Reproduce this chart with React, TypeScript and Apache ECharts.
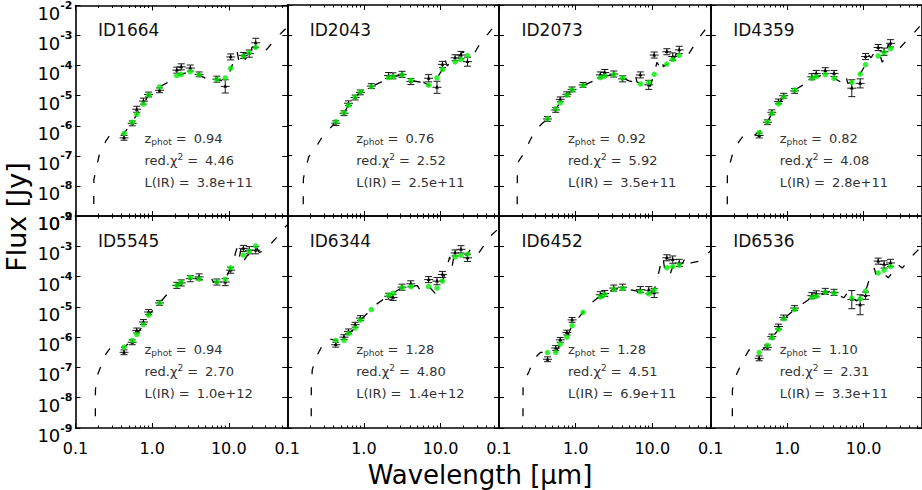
import React, { useEffect, useRef } from "react";
import * as echarts from "echarts";

// ---------------- data ----------------
const FILTER_WAVELENGTH_UM = [0.43, 0.55, 0.63, 0.77, 0.9, 1.25, 2.1, 2.4, 3.15, 4.1, 7.0, 9.0, 10.6, 15.5, 18.5, 22.5];

const PANEL_IDS = ["ID1664", "ID2043", "ID2073", "ID4359", "ID5545", "ID6344", "ID6452", "ID6536"];
const Z_PHOT = ["0.94", "0.76", "0.92", "0.82", "0.94", "1.28", "1.28", "1.10"];
const RED_CHI2 = ["4.46", "2.52", "5.92", "4.08", "2.70", "4.80", "4.51", "2.31"];
const L_IR = ["3.8e+11", "2.5e+11", "3.5e+11", "2.8e+11", "1.0e+12", "1.4e+12", "6.9e+11", "3.3e+11"];

const X_MIN_UM = 0.1;
const X_MAX_UM = 58;
const Y_MIN_LOG = -9;
const Y_MAX_LOG = -2;
const MAJOR_TICKS_UM = [0.1, 1, 10];
const X_TICK_LABELS = ["0.1", "1.0", "10.0"];
const MINOR_TICKS_UM = [0.2, 0.3, 0.4, 0.5, 0.6, 0.7, 0.8, 0.9, 2, 3, 4, 5, 6, 7, 8, 9, 20, 30, 40, 50];

// model SED (dashed): wavelength in micron, log10 flux in Jy
const MODEL_1664_WL = [0.1725, 0.1735, 0.205, 0.25, 0.28, 0.36, 0.43, 0.55, 0.63, 0.77, 0.9, 1.25, 1.7, 2.1, 2.4, 3.15, 4.1, 5.3, 6.0, 6.5, 7.0, 8.0, 9.0, 10.0, 11.1, 12.0, 12.9, 13.5, 14.3, 15.5, 16.5, 18.3, 20.2, 22.4, 25, 27.4, 31.8, 40.8, 47.4, 58];
const MODEL_1664_LOGF = [-10, -7.8, -6.95, -6.5, -6.32, -6.33, -6.25, -5.88, -5.62, -5.28, -4.98, -4.71, -4.52, -4.33, -4.29, -4.2, -4.31, -4.45, -4.52, -4.38, -4.47, -4.5, -4.48, -4.3, -3.99, -3.66, -3.55, -3.82, -3.66, -3.49, -3.82, -3.77, -3.38, -3.41, -3.55, -3.6, -3.44, -3.1, -2.94, -2.72];
const MODEL_2043_WL = [0.16, 0.1625, 0.19, 0.25, 0.29, 0.36, 0.43, 0.55, 0.63, 0.77, 0.9, 1.25, 1.7, 2.1, 2.4, 3.15, 4.1, 5.4, 5.8, 6.1, 7.0, 8.0, 9.0, 10.6, 11.2, 12.3, 13.5, 15, 17, 19.5, 21, 23, 27, 35, 42, 54, 58];
const MODEL_2043_LOGF = [-10, -7.75, -7.05, -6.62, -6.35, -6.1, -5.87, -5.57, -5.33, -5.05, -4.88, -4.71, -4.55, -4.41, -4.38, -4.32, -4.5, -4.56, -4.33, -4.58, -4.66, -4.62, -4.42, -4.14, -3.77, -4.02, -3.88, -3.75, -3.72, -3.55, -3.62, -3.62, -3.65, -3.15, -2.95, -2.6, -2.52];
const MODEL_2073_WL = [0.172, 0.1735, 0.18, 0.205, 0.25, 0.29, 0.36, 0.43, 0.55, 0.63, 0.77, 0.9, 1.25, 1.7, 2.1, 2.4, 3.15, 4.1, 5.0, 5.7, 6.0, 6.3, 7.0, 8.0, 9.2, 10.6, 11.5, 12.3, 13.2, 14, 15.5, 17.5, 20.5, 23, 26, 30, 39, 45, 58];
const MODEL_2073_LOGF = [-10, -7.6, -7.19, -6.97, -6.53, -6.2, -5.95, -5.77, -5.44, -5.25, -4.99, -4.82, -4.67, -4.52, -4.41, -4.36, -4.31, -4.42, -4.52, -4.55, -4.28, -4.55, -4.62, -4.65, -4.76, -4.3, -3.9, -4.02, -3.8, -4.05, -3.96, -4.1, -3.62, -3.65, -3.7, -3.62, -3.16, -2.94, -2.6];
const MODEL_4359_WL = [0.164, 0.165, 0.19, 0.234, 0.273, 0.36, 0.43, 0.55, 0.63, 0.77, 0.9, 1.25, 1.7, 2.1, 2.4, 3.15, 4.1, 5.0, 5.6, 5.9, 6.2, 7.0, 8.0, 9.0, 10.6, 11.6, 12.5, 13.5, 14.5, 16, 17.5, 19, 21, 22.5, 25, 28.5, 39, 45, 58];
const MODEL_4359_LOGF = [-10, -7.6, -7.0, -6.53, -6.3, -6.33, -6.23, -5.88, -5.6, -5.28, -5.05, -4.82, -4.62, -4.43, -4.38, -4.31, -4.43, -4.55, -4.6, -4.38, -4.6, -4.57, -4.45, -4.29, -3.98, -3.66, -3.75, -3.62, -3.7, -3.58, -3.9, -3.75, -3.3, -3.45, -3.55, -3.48, -3.1, -2.94, -2.62];
const MODEL_5545_WL = [0.181, 0.182, 0.19, 0.22, 0.25, 0.3, 0.36, 0.43, 0.55, 0.63, 0.77, 0.9, 1.25, 1.6, 1.83, 2.1, 2.4, 3.15, 4.1, 5.2, 5.8, 6.3, 7.0, 8.0, 9.0, 10.6, 11.7, 12.3, 13.0, 13.8, 14.5, 16, 17.5, 19.5, 22.5, 25, 29, 33, 45, 52, 58];
const MODEL_5545_LOGF = [-10, -7.75, -7.3, -6.9, -6.55, -6.28, -6.35, -6.33, -6.11, -5.91, -5.59, -5.27, -4.87, -4.56, -4.4, -4.29, -4.19, -4.03, -4.08, -4.15, -4.0, -4.18, -4.17, -4.2, -4.09, -3.71, -3.45, -3.2, -3.0, -3.35, -3.05, -3.45, -3.3, -3.25, -2.99, -3.2, -3.15, -3.0, -2.63, -2.41, -2.3];
const MODEL_6344_WL = [0.205, 0.206, 0.212, 0.234, 0.29, 0.35, 0.43, 0.55, 0.63, 0.77, 0.9, 1.25, 1.45, 2.1, 2.4, 3.15, 4.1, 5.0, 5.5, 7.0, 7.5, 8.5, 9.0, 10.6, 11.5, 12.5, 13.2, 14, 14.8, 16, 18, 20, 22.5, 26, 29, 32, 39, 45, 58];
const MODEL_6344_LOGF = [-10, -7.7, -7.08, -6.7, -6.25, -6.05, -6.11, -6.11, -5.88, -5.7, -5.44, -5.09, -4.92, -4.62, -4.55, -4.36, -4.33, -4.3, -4.48, -4.33, -4.4, -4.55, -4.38, -4.15, -3.9, -3.55, -3.35, -3.75, -3.4, -3.3, -3.33, -3.35, -3.26, -3.0, -3.15, -3.2, -2.88, -2.66, -2.4];
const MODEL_6452_WL = [0.205, 0.206, 0.212, 0.246, 0.29, 0.35, 0.43, 0.55, 0.63, 0.77, 0.9, 1.25, 1.4, 1.9, 2.1, 2.4, 3.15, 4.1, 5.5, 7.0, 8.0, 9.0, 10.6, 11.7, 13.0, 13.8, 14.5, 15.5, 17, 18.5, 20, 22.5, 25, 28, 32, 40, 47, 58];
const MODEL_6452_LOGF = [-10, -7.6, -7.47, -7.14, -6.7, -6.5, -6.51, -6.5, -6.23, -6.0, -5.62, -5.18, -5.0, -4.72, -4.67, -4.6, -4.42, -4.39, -4.45, -4.5, -4.55, -4.57, -4.45, -4.05, -3.55, -3.35, -3.75, -3.71, -3.95, -3.67, -3.85, -3.62, -3.55, -3.3, -3.55, -3.5, -3.35, -3.15];
const MODEL_6536_WL = [0.191, 0.192, 0.2, 0.22, 0.273, 0.317, 0.36, 0.43, 0.55, 0.63, 0.77, 0.9, 1.25, 1.7, 2.1, 2.4, 3.15, 4.1, 5.5, 6.1, 6.4, 7.0, 8.0, 9.0, 10.6, 11.7, 12.9, 13.8, 14.5, 15.5, 17, 19, 21, 23.6, 26, 28.5, 32, 35, 45, 55, 58];
const MODEL_6536_LOGF = [-10, -7.75, -7.47, -7.2, -6.7, -6.42, -6.45, -6.51, -6.27, -6.02, -5.75, -5.4, -5.09, -4.85, -4.69, -4.65, -4.52, -4.55, -4.7, -4.55, -4.8, -4.71, -4.8, -4.74, -4.48, -4.15, -3.95, -3.72, -3.95, -3.85, -3.85, -3.95, -4.04, -3.88, -3.85, -3.62, -3.72, -3.6, -3.27, -3.05, -3.0];

// model photometry (green dots), log10 flux in Jy, one per filter
const MODELPHOT_1664 = [-6.25, -5.88, -5.62, -5.28, -4.98, -4.71, -4.33, -4.29, -4.2, -4.31, -4.46, -4.41, -4.09, -3.68, -3.56, -3.39];
const MODELPHOT_2043 = [-5.87, -5.57, -5.33, -5.05, -4.88, -4.71, -4.41, -4.38, -4.32, -4.5, -4.66, -4.42, -4.14, -3.89, -3.81, -3.68];
const MODELPHOT_2073 = [-5.77, -5.44, -5.25, -4.99, -4.82, -4.67, -4.41, -4.36, -4.31, -4.42, -4.62, -4.57, -4.3, -3.96, -3.81, -3.67];
const MODELPHOT_4359 = [-6.23, -5.88, -5.6, -5.28, -5.05, -4.82, -4.43, -4.38, -4.31, -4.43, -4.57, -4.29, -3.98, -3.69, -3.58, -3.45];
const MODELPHOT_5545 = [-6.33, -6.11, -5.91, -5.59, -5.27, -4.87, -4.29, -4.19, -4.03, -4.08, -4.17, -4.09, -3.71, -3.29, -3.17, -2.99];
const MODELPHOT_6344 = [-6.11, -6.11, -5.88, -5.7, -5.44, -5.09, -4.62, -4.55, -4.36, -4.33, -4.33, -4.38, -4.15, -3.35, -3.3, -3.26];
const MODELPHOT_6452 = [-6.51, -6.5, -6.23, -6.0, -5.62, -5.18, -4.67, -4.6, -4.42, -4.39, -4.5, -4.57, -4.45, -3.71, -3.67, -3.62];
const MODELPHOT_6536 = [-6.51, -6.27, -6.02, -5.75, -5.4, -5.09, -4.69, -4.65, -4.52, -4.55, -4.71, -4.74, -4.48, -3.88, -3.79, -3.67];

// observed photometry (black crosses), log10 flux in Jy and error in dex
const OBS_1664 = [-6.4, -5.92, -5.45, -5.18, -4.96, -4.82, -4.15, -4.04, -4.08, -4.29, -4.45, -4.69, -3.71, -3.66, -3.6, -3.24];
const OBS_1664_ERR = [0.08, 0.08, 0.1, 0.1, 0.08, 0.08, 0.1, 0.1, 0.1, 0.08, 0.1, 0.22, 0.1, 0.1, 0.12, 0.15];
const OBS_2043 = [-5.92, -5.59, -5.26, -5.07, -4.9, -4.69, -4.34, -4.35, -4.3, -4.54, -4.43, -4.73, -3.97, -3.75, -3.66, -3.88];
const OBS_2043_ERR = [0.08, 0.08, 0.08, 0.08, 0.08, 0.08, 0.1, 0.1, 0.1, 0.1, 0.12, 0.2, 0.1, 0.1, 0.12, 0.15];
const OBS_2073 = [-5.78, -5.48, -5.13, -4.96, -4.8, -4.65, -4.32, -4.24, -4.29, -4.45, -4.32, -4.65, -3.66, -3.55, -3.71, -3.49];
const OBS_2073_ERR = [0.08, 0.08, 0.08, 0.08, 0.08, 0.08, 0.1, 0.1, 0.1, 0.1, 0.1, 0.15, 0.1, 0.1, 0.12, 0.12];
const OBS_4359 = [-6.33, -5.89, -5.56, -5.2, -5.01, -4.85, -4.38, -4.27, -4.18, -4.27, -4.76, -4.6, -3.71, -3.41, -3.55, -3.27];
const OBS_4359_ERR = [0.08, 0.08, 0.08, 0.08, 0.08, 0.08, 0.1, 0.1, 0.1, 0.1, 0.28, 0.15, 0.1, 0.1, 0.12, 0.12];
const OBS_5545 = [-6.5, -6.17, -5.78, -5.5, -5.17, -4.87, -4.29, -4.21, -4.07, -4.01, -4.18, -4.18, -3.79, -3.07, -3.13, -3.13];
const OBS_5545_ERR = [0.08, 0.08, 0.08, 0.08, 0.08, 0.08, 0.1, 0.1, 0.1, 0.1, 0.1, 0.12, 0.1, 0.1, 0.12, 0.12];
const OBS_6344 = [-6.25, -6.0, -5.81, -5.59, -5.37, null, -4.65, -4.69, -4.35, -4.24, -4.1, -4.15, -3.93, -3.22, -3.1, -3.38];
const OBS_6344_ERR = [0.08, 0.08, 0.08, 0.08, 0.08, 0.08, 0.1, 0.1, 0.1, 0.1, 0.1, 0.12, 0.1, 0.1, 0.12, 0.12];
const OBS_6452 = [-6.73, -6.36, -6.09, -5.85, -5.43, null, -4.6, -4.56, -4.38, -4.35, -4.43, -4.45, -4.54, -3.38, -3.44, -3.55];
const OBS_6452_ERR = [0.08, 0.08, 0.08, 0.08, 0.08, 0.08, 0.1, 0.1, 0.1, 0.1, 0.1, 0.12, 0.15, 0.1, 0.12, 0.12];
const OBS_6536 = [-6.7, -6.34, -5.98, -5.65, -5.35, -5.04, -4.63, -4.57, -4.49, -4.52, -4.76, -4.93, -4.63, -3.49, -3.6, -3.55];
const OBS_6536_ERR = [0.08, 0.08, 0.08, 0.08, 0.08, 0.08, 0.1, 0.1, 0.1, 0.1, 0.3, 0.33, 0.12, 0.1, 0.12, 0.12];

const MODEL_WL = [MODEL_1664_WL, MODEL_2043_WL, MODEL_2073_WL, MODEL_4359_WL, MODEL_5545_WL, MODEL_6344_WL, MODEL_6452_WL, MODEL_6536_WL];
const MODEL_LOGF = [MODEL_1664_LOGF, MODEL_2043_LOGF, MODEL_2073_LOGF, MODEL_4359_LOGF, MODEL_5545_LOGF, MODEL_6344_LOGF, MODEL_6452_LOGF, MODEL_6536_LOGF];
const MODELPHOT = [MODELPHOT_1664, MODELPHOT_2043, MODELPHOT_2073, MODELPHOT_4359, MODELPHOT_5545, MODELPHOT_6344, MODELPHOT_6452, MODELPHOT_6536];
const OBS = [OBS_1664, OBS_2043, OBS_2073, OBS_4359, OBS_5545, OBS_6344, OBS_6452, OBS_6536];
const OBS_ERR = [OBS_1664_ERR, OBS_2043_ERR, OBS_2073_ERR, OBS_4359_ERR, OBS_5545_ERR, OBS_6344_ERR, OBS_6452_ERR, OBS_6536_ERR];

// ---------------- layout ----------------
const FONT = "'DejaVu Sans', 'Liberation Sans', sans-serif";
const COL_LEFT0 = 75.5;
const COL_W = 211.75;
const ROW_TOP = [5, 216];
const ROW_H = [211, 212];
const GREEN = "#00ee00";

function buildOption() {
  const xMin = Math.log10(X_MIN_UM);
  const xMax = Math.log10(X_MAX_UM);
  const logMajor = MAJOR_TICKS_UM.map((v) => Math.log10(v));
  const logMinor = MINOR_TICKS_UM.map((v) => Math.log10(v));
  const axisLineStyle = { color: "#000", width: 1.6 };
  const tickLineStyle = { color: "#000", width: 1 };

  const xFormatter = (v: number) => {
    const i = logMajor.findIndex((m) => Math.abs(m - v) < 1e-6);
    return i >= 0 ? X_TICK_LABELS[i] : "";
  };

  const grids: any[] = [];
  const xAxes: any[] = [];
  const yAxes: any[] = [];
  const series: any[] = [];
  const graphics: any[] = [];

  const xAx = (gi: number, pos: string, ticks: number[], len: number, showLine: boolean, showLabel: boolean) => ({
    type: "value",
    gridIndex: gi,
    position: pos,
    min: xMin,
    max: xMax,
    axisLine: { show: showLine, onZero: false, lineStyle: axisLineStyle },
    axisTick: { show: true, inside: true, length: len, customValues: ticks, lineStyle: tickLineStyle },
    axisLabel: {
      show: showLabel,
      customValues: logMajor,
      formatter: xFormatter,
      margin: 12,
      fontSize: 16,
      lineHeight: 16,
      color: "#000",
      fontFamily: FONT,
    },
    splitLine: { show: false },
  });

  const yAx = (gi: number, pos: string, showLabel: boolean) => ({
    type: "value",
    gridIndex: gi,
    position: pos,
    min: Y_MIN_LOG,
    max: Y_MAX_LOG,
    interval: 1,
    axisLine: { show: true, onZero: false, lineStyle: axisLineStyle },
    axisTick: { show: true, inside: true, length: 5, lineStyle: tickLineStyle },
    axisLabel: {
      show: showLabel,
      margin: 3,
      padding: [11, 0, 0, 0],
      formatter: (v: number) => "{b|10}{e|" + Math.round(v) + "}",
      rich: {
        b: { fontSize: 18, lineHeight: 22, verticalAlign: "bottom", fontFamily: FONT, color: "#000" },
        e: { fontSize: 11, lineHeight: 11, verticalAlign: "top", fontFamily: FONT, color: "#000", fontWeight: "bold" },
      },
    },
    splitLine: { show: false },
  });

  const statRich = {
    n: { fontSize: 13, lineHeight: 16, fontFamily: FONT, fill: "#333", color: "#333" },
    s: { fontSize: 9, lineHeight: 9, verticalAlign: "bottom", fontFamily: FONT, fill: "#333", color: "#333" },
    p: { fontSize: 9, lineHeight: 9, verticalAlign: "top", fontFamily: FONT, fill: "#333", color: "#333" },
    q: { fontSize: 13, lineHeight: 16, fontFamily: FONT, fill: "#333", color: "#333", padding: [0, 7, 0, 4] },
  };

  for (let i = 0; i < PANEL_IDS.length; i++) {
    const col = i % 4;
    const row = Math.floor(i / 4);
    const L = COL_LEFT0 + col * COL_W;
    const T = ROW_TOP[row];
    grids.push({ left: L, top: T, width: COL_W, height: ROW_H[row], containLabel: false });

    xAxes.push(xAx(i, "bottom", logMajor, 5, true, row === 1));
    xAxes.push(xAx(i, "bottom", logMinor, 2.5, false, false));
    xAxes.push(xAx(i, "top", logMajor, 5, true, false));
    xAxes.push(xAx(i, "top", logMinor, 2.5, false, false));
    yAxes.push(yAx(i, "left", col === 0));
    yAxes.push(yAx(i, "right", false));

    const xi = 4 * i;
    const yi = 2 * i;

    series.push({
      type: "line",
      name: PANEL_IDS[i] + " model",
      xAxisIndex: xi,
      yAxisIndex: yi,
      data: MODEL_WL[i].map((w, k) => [Math.log10(w), MODEL_LOGF[i][k]]),
      showSymbol: false,
      symbol: "none",
      clip: true,
      silent: true,
      lineStyle: { color: "#000", width: 1.3, type: [8, 13] },
      z: 2,
    });

    const obsData: any[] = [];
    FILTER_WAVELENGTH_UM.forEach((w, k) => {
      const v = OBS[i][k];
      if (v !== null && v !== undefined) obsData.push([Math.log10(w), v, OBS_ERR[i][k]]);
    });
    series.push({
      type: "custom",
      name: PANEL_IDS[i] + " observed",
      xAxisIndex: xi,
      yAxisIndex: yi,
      silent: true,
      encode: { x: 0, y: 1 },
      data: obsData,
      z: 3,
      renderItem: (params: any, api: any) => {
        const x = api.value(0);
        const y = api.value(1);
        const e = api.value(2);
        const c = api.coord([x, y]);
        const lo = api.coord([x, y - e]);
        const hi = api.coord([x, y + e]);
        const st = { stroke: "#1a1a1a", lineWidth: 1 };
        const w = 4.5;
        const cw = 3.5;
        return {
          type: "group",
          children: [
            { type: "line", shape: { x1: c[0] - w, y1: c[1], x2: c[0] + w, y2: c[1] }, style: st },
            { type: "line", shape: { x1: c[0], y1: lo[1], x2: c[0], y2: hi[1] }, style: st },
            { type: "line", shape: { x1: c[0] - cw, y1: lo[1], x2: c[0] + cw, y2: lo[1] }, style: st },
            { type: "line", shape: { x1: c[0] - cw, y1: hi[1], x2: c[0] + cw, y2: hi[1] }, style: st },
            {
              type: "polygon",
              shape: { points: [[c[0], c[1] - 2.6], [c[0] - 1.8, c[1] + 1.4], [c[0] + 1.8, c[1] + 1.4]] },
              style: { fill: "#000" },
            },
          ],
        };
      },
    });

    series.push({
      type: "scatter",
      name: PANEL_IDS[i] + " model photometry",
      xAxisIndex: xi,
      yAxisIndex: yi,
      data: FILTER_WAVELENGTH_UM.map((w, k) => [Math.log10(w), MODELPHOT[i][k]]),
      symbol: "circle",
      symbolSize: 5.5,
      itemStyle: { color: GREEN },
      silent: true,
      z: 4,
    });

    graphics.push({
      type: "text",
      x: L + 22.5,
      y: T + 25,
      silent: true,
      style: {
        text: PANEL_IDS[i],
        fontSize: 17,
        fontFamily: FONT,
        fill: "#111",
        textAlign: "left",
        align: "left",
        textVerticalAlign: "middle",
        verticalAlign: "middle",
      },
    });
    const lines = [
      "{n|z}{s|phot}{q|=}{n|" + Z_PHOT[i] + "}",
      "{n|red.χ}{p|2}{q|=}{n|" + RED_CHI2[i] + "}",
      "{n|L(IR)}{q|=}{n|" + L_IR[i] + "}",
    ];
    lines.forEach((t, k) => {
      graphics.push({
        type: "text",
        x: L + 69,
        y: T + 133.5 + 22 * k,
        silent: true,
        style: {
          text: t,
          rich: statRich,
          fontSize: 13,
          fontFamily: FONT,
          fill: "#333",
          textAlign: "left",
          align: "left",
          textVerticalAlign: "middle",
          verticalAlign: "middle",
        },
      });
    });
  }

  graphics.push({
    type: "text",
    x: 16,
    y: 217,
    rotation: Math.PI / 2,
    silent: true,
    style: {
      text: "Flux [Jy]",
      fontSize: 27,
      fontFamily: FONT,
      fill: "#000",
      textAlign: "center",
      align: "center",
      textVerticalAlign: "middle",
      verticalAlign: "middle",
    },
  });
  graphics.push({
    type: "text",
    x: 480,
    y: 475,
    silent: true,
    style: {
      text: "Wavelength [μm]",
      fontSize: 26,
      lineHeight: 26,
      fontFamily: FONT,
      fill: "#000",
      textAlign: "center",
      align: "center",
      textVerticalAlign: "middle",
      verticalAlign: "middle",
    },
  });

  return {
    animation: false,
    backgroundColor: "#fff",
    textStyle: { fontFamily: FONT },
    grid: grids,
    xAxis: xAxes,
    yAxis: yAxes,
    series,
    graphic: { elements: graphics },
  };
}

export default function App() {
  const ref = useRef<HTMLDivElement | null>(null);
  useEffect(() => {
    if (!ref.current) return;
    const chart = echarts.init(ref.current, undefined, { renderer: "svg" });
    chart.setOption(buildOption() as any);
    return () => {
      chart.dispose();
    };
  }, []);
  return <div ref={ref} style={{ position: "absolute", left: 0, top: 0, width: 922, height: 490 }} />;
}
